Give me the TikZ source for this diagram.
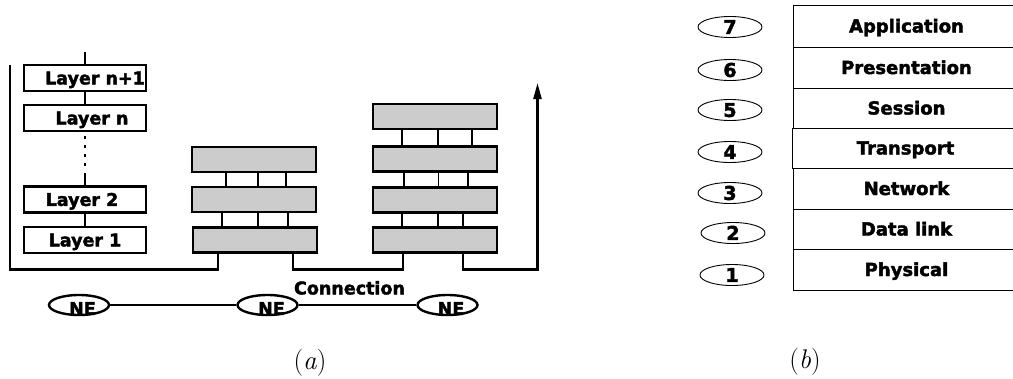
\documentclass[tikz,border=0pt]{standalone}
\usepackage{fontspec}
\usetikzlibrary{shapes.geometric,arrows.meta}
\newfontfamily\boldsans{DejaVu Sans Bold}[FakeBold=2.2]
\begin{document}
\begin{tikzpicture}[x=1pt,y=-1pt,
  heavy/.style={line width=2.3pt},
  layerbox/.style={rectangle,draw,line width=2.5pt,fill=white,minimum width=122pt,minimum height=26pt,inner sep=0pt},
  graybox/.style={rectangle,draw,line width=2.5pt,fill=black!20,minimum width=124pt,minimum height=25pt,inner sep=0pt},
  boldtext/.style={font=\boldsans\fontsize{17.5}{20}\selectfont,inner sep=0pt,text height=12.8pt,text depth=0pt},
  nebox/.style={ellipse,draw,line width=2.4pt,minimum width=60pt,minimum height=20pt,inner sep=0pt},
  numbox/.style={ellipse,draw,line width=0.9pt,minimum width=64pt,minimum height=21pt,inner sep=0pt,
                 font=\boldsans\fontsize{19}{20}\selectfont,text height=13.8pt,text depth=0pt},
  rowbox/.style={rectangle,draw,line width=1pt,minimum width=227pt,inner sep=0pt,
                 font=\boldsans\fontsize{18}{20}\selectfont,text height=13pt,text depth=0pt},
  captext/.style={font=\fontsize{27}{30}\selectfont,inner sep=0pt}
]
\useasboundingbox (0,0) rectangle (1013,378);

% ---------- (a): protocol layers over a chain of network elements ----------
% layer column
\node[layerbox] (ln1) at (85,78) {};
\node[layerbox] (ln)  at (85,118) {};
\node[layerbox] (l2)  at (85,199.5) {};
\node[layerbox] (l1)  at (85,240) {};
\node[boldtext] (tln1) at ([xshift=10pt]ln1.center) {Layer n+1};
\node[boldtext] (tln)  at ([xshift=7pt]ln.center)  {Layer n};
\node[boldtext] (tl2)  at ([xshift=-3pt]l2.center) {Layer 2};
\node[boldtext] (tl1)  at (l1.center) {Layer 1};

\coordinate (ltop) at (85,52);
\coordinate (dotA) at (85,136);
\coordinate (dotB) at (85,167);
\coordinate (dotC) at (85,173);
\draw[heavy] (ltop) -- (ln1.north);
\draw[heavy] (ln1.south) -- (ln.north);
\draw[heavy,dash pattern=on 3pt off 6pt] (dotA) -- (dotB);
\draw[heavy] (dotC) -- (l2.north);
\draw[heavy] (l2.south) -- (l1.north);

% first relay stack
\node[graybox] (sa1) at (254,159.5) {};
\node[graybox] (sa2) at (254,199.5) {};
\node[graybox] (sa3) at (255,240) {};
\foreach \dx in {-28,4,32} \draw[heavy] ([xshift=\dx pt]sa1.south) -- ([xshift=\dx pt]sa1.south |- sa2.north);
\foreach \dx in {-32,4,34} \draw[heavy] ([xshift=\dx pt]sa2.south) -- ([xshift=\dx pt]sa2.south |- sa3.north);

% second relay stack
\node[graybox] (sb1) at (435,116.5) {};
\node[graybox] (sb2) at (435,159) {};
\node[graybox] (sb3) at (435,200) {};
\node[graybox] (sb4) at (435,240) {};
\foreach \dx in {-33,3,37} \draw[heavy] ([xshift=\dx pt]sb1.south) -- ([xshift=\dx pt]sb1.south |- sb2.north);
\foreach \dx in {-31,33} \draw[heavy] ([xshift=\dx pt]sb2.south) -- ([xshift=\dx pt]sb2.south |- sb3.north);
\draw[line width=1pt] ([xshift=3pt]sb2.south) -- ([xshift=3pt]sb2.south |- sb3.north);
\foreach \dx in {-33,3,28} \draw[heavy] ([xshift=\dx pt]sb3.south) -- ([xshift=\dx pt]sb3.south |- sb4.north);

% signal path along the bottom
\coordinate (start) at (10,65);
\coordinate (c1) at (218,269.5);
\coordinate (c2) at (403,269.5);
\coordinate (c3) at (537.5,269.5);
\coordinate (tip) at (537.5,83);
\draw[heavy] (start) |- (c1) -- (c1 |- sa3.south);
\draw[heavy] ([xshift=38pt]sa3.south) |- (c2) -- (c2 |- sb4.south);
\draw[heavy,-{Triangle[length=16pt,width=8pt]}] ([xshift=28pt]sb4.south) |- (c3) -- (tip);

% network elements
\node[nebox] (ne1) at (79,305) {};
\node[nebox] (ne2) at (267.5,305) {};
\node[nebox] (ne3) at (447.5,305) {};
\draw[line width=1.8pt] (ne1) -- (ne2);
\draw[line width=1.8pt] (ne2) -- (ne3);
\node[boldtext] (tne1) at ([xshift=3.5pt,yshift=-3.5pt]ne1.center) {NE};
\node[boldtext] (tne2) at ([xshift=4pt,yshift=-3.5pt]ne2.center) {NE};
\node[boldtext] (tne3) at ([xshift=3.5pt,yshift=-3.5pt]ne3.center) {NE};
\node[boldtext] (conn) at (349.5,288) {Connection};

\node[captext] (capa) at (310,363) {(\textit{a})};

% ---------- (b): the seven OSI layers ----------
\begin{scope}
\clip (0,0) rectangle (1013,378);
\node[rowbox,minimum height=42pt] (r7) at (906.5,26)    {Application};
\node[rowbox,minimum height=41pt] (r6) at (906.5,67.5)  {Presentation};
\node[rowbox,minimum height=40pt] (r5) at (906.5,108)   {Session};
\node[rowbox,minimum height=40pt] (r4) at (905.5,148)   {Transport};
\node[rowbox,minimum height=41pt] (r3) at (906.5,188.5) {Network};
\node[rowbox,minimum height=40pt] (r2) at (906.5,229)   {Data link};
\node[rowbox,minimum height=41pt] (r1) at (906.5,269.5) {Physical};
\end{scope}

\node[numbox] (n7) at (730,27)  {7};
\node[numbox] (n6) at (730,70)  {6};
\node[numbox] (n5) at (730,110) {5};
\node[numbox] (n4) at (730,152) {4};
\node[numbox] (n3) at (730,193) {3};
\node[numbox] (n2) at (733,233) {2};
\node[numbox] (n1) at (732,275) {1};

\node[captext] (capb) at (805,362) {(\textit{b})};
\end{tikzpicture}
\end{document}
